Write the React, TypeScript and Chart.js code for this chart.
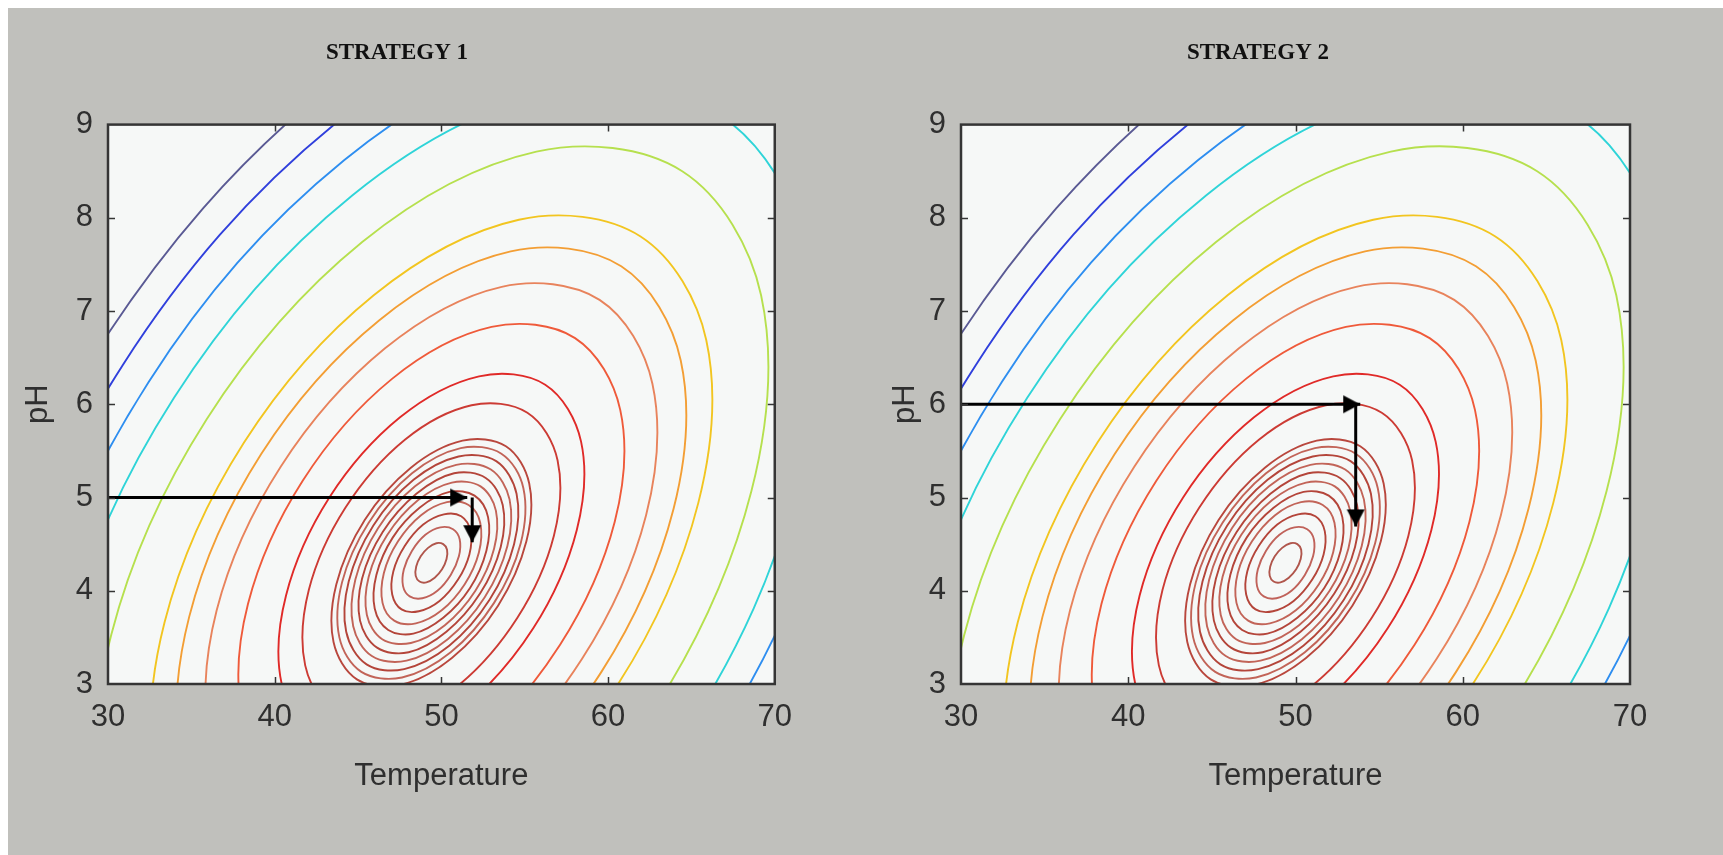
import React, { useEffect, useRef } from "react";
import { Chart, registerables } from "chart.js";

Chart.register(...registerables);

// ---------- data ----------
const xTicks = [30, 40, 50, 60, 70];
const yTicks = [3, 4, 5, 6, 7, 8, 9];
const xRange = [30, 70];
const yRange = [3, 9];

type P = [number, number];

// Contour rings (Temperature, pH), outermost to innermost, 12 outline points each
const ringC1: P[] = [[71.73, 10.54], [58.74, 10.84], [43.25, 9.4], [29.4, 6.59], [20.92, 3.16], [20.06, 0.04], [27.07, -1.94], [40.06, -2.24], [55.55, -0.8], [69.4, 2.01], [77.88, 5.44], [78.74, 8.56]];
const ringC2: P[] = [[70.08, 10.08], [58.05, 10.36], [43.7, 9.02], [30.88, 6.42], [23.02, 3.25], [22.23, 0.36], [28.72, -1.48], [40.75, -1.76], [55.1, -0.42], [67.92, 2.18], [75.78, 5.35], [76.57, 8.24]];
const ringC3: P[] = [[68.34, 9.59], [57.32, 9.85], [44.18, 8.62], [32.44, 6.24], [25.24, 3.33], [24.52, 0.69], [30.46, -0.99], [41.48, -1.25], [54.62, -0.02], [66.36, 2.36], [73.56, 5.27], [74.28, 7.91]];
const ringC4: P[] = [[66.64, 9.11], [56.61, 9.35], [44.65, 8.24], [33.96, 6.07], [27.41, 3.42], [26.75, 1.01], [32.16, -0.51], [42.19, -0.75], [54.15, 0.36], [64.84, 2.53], [71.39, 5.18], [72.05, 7.59]];
const ringC5: P[] = [[64.45, 8.5], [55.7, 8.71], [45.25, 7.74], [35.92, 5.84], [30.2, 3.53], [29.62, 1.43], [34.35, 0.1], [43.1, -0.11], [53.55, 0.86], [62.88, 2.76], [68.6, 5.07], [69.18, 7.17]];
const ringC6: P[] = [[61.95, 7.8], [54.65, 7.98], [45.94, 7.17], [38.16, 5.59], [33.39, 3.66], [32.91, 1.91], [36.85, 0.8], [44.15, 0.62], [52.86, 1.43], [60.64, 3.01], [65.41, 4.94], [65.89, 6.69]];
const ringC7: P[] = [[60.79, 7.48], [54.16, 7.64], [46.26, 6.9], [39.2, 5.47], [34.87, 3.72], [34.44, 2.13], [38.01, 1.12], [44.64, 0.96], [52.54, 1.7], [59.6, 3.13], [63.93, 4.88], [64.36, 6.47]];
const ringC8: P[] = [[59.49, 7.12], [53.62, 7.26], [46.62, 6.6], [40.36, 5.33], [36.52, 3.79], [36.14, 2.38], [39.31, 1.48], [45.18, 1.34], [52.18, 2.0], [58.44, 3.27], [62.28, 4.81], [62.66, 6.22]];
const ringC9: P[] = [[58.02, 6.71], [53.01, 6.83], [47.02, 6.27], [41.68, 5.18], [38.4, 3.86], [38.07, 2.66], [40.78, 1.89], [45.79, 1.77], [51.78, 2.33], [57.12, 3.42], [60.4, 4.74], [60.73, 5.94]];
const ringC10: P[] = [[56.23, 6.21], [52.26, 6.3], [47.52, 5.86], [43.28, 5.0], [40.68, 3.95], [40.42, 3.0], [42.57, 2.39], [46.54, 2.3], [51.28, 2.74], [55.52, 3.6], [58.12, 4.65], [58.38, 5.6]];
const ringC11: P[] = [[55.16, 5.91], [51.81, 5.99], [47.81, 5.62], [44.24, 4.89], [42.05, 4.01], [41.83, 3.2], [43.64, 2.69], [46.99, 2.61], [50.99, 2.98], [54.56, 3.71], [56.75, 4.59], [56.97, 5.4]];
const ringB10: P[] = [[53.87, 5.55], [51.27, 5.61], [48.17, 5.32], [45.4, 4.76], [43.7, 4.07], [43.53, 3.45], [44.93, 3.05], [47.53, 2.99], [50.63, 3.28], [53.4, 3.84], [55.1, 4.53], [55.27, 5.15]];
const ringB9: P[] = [[53.6, 5.47], [51.16, 5.53], [48.24, 5.26], [45.64, 4.73], [44.04, 4.09], [43.88, 3.5], [45.2, 3.13], [47.64, 3.07], [50.56, 3.34], [53.16, 3.87], [54.76, 4.51], [54.92, 5.1]];
const ringB8: P[] = [[53.29, 5.39], [51.03, 5.44], [48.33, 5.19], [45.92, 4.7], [44.44, 4.1], [44.29, 3.56], [45.51, 3.21], [47.77, 3.16], [50.47, 3.41], [52.88, 3.9], [54.36, 4.5], [54.51, 5.04]];
const ringB7: P[] = [[52.97, 5.3], [50.89, 5.35], [48.42, 5.12], [46.2, 4.67], [44.84, 4.12], [44.71, 3.62], [45.83, 3.3], [47.91, 3.25], [50.38, 3.48], [52.6, 3.93], [53.96, 4.48], [54.09, 4.98]];
const ringB6: P[] = [[52.66, 5.21], [50.76, 5.26], [48.5, 5.04], [46.48, 4.63], [45.24, 4.13], [45.12, 3.68], [46.14, 3.39], [48.04, 3.34], [50.3, 3.56], [52.32, 3.97], [53.56, 4.47], [53.68, 4.92]];
const ringB5: P[] = [[52.35, 5.12], [50.63, 5.16], [48.59, 4.97], [46.76, 4.6], [45.64, 4.15], [45.53, 3.74], [46.45, 3.48], [48.17, 3.44], [50.21, 3.63], [52.04, 4.0], [53.16, 4.45], [53.27, 4.86]];
const ringB4: P[] = [[51.99, 5.02], [50.48, 5.06], [48.69, 4.89], [47.08, 4.57], [46.1, 4.17], [46.0, 3.81], [46.81, 3.58], [48.32, 3.54], [50.11, 3.71], [51.72, 4.03], [52.7, 4.43], [52.8, 4.79]];
const ringB3: P[] = [[51.63, 4.92], [50.33, 4.95], [48.78, 4.81], [47.4, 4.53], [46.55, 4.19], [46.47, 3.87], [47.17, 3.68], [48.47, 3.65], [50.02, 3.79], [51.4, 4.07], [52.25, 4.41], [52.33, 4.73]];
const ringB2: P[] = [[51.19, 4.8], [50.15, 4.82], [48.91, 4.71], [47.8, 4.48], [47.12, 4.21], [47.05, 3.96], [47.61, 3.8], [48.65, 3.78], [49.89, 3.89], [51.0, 4.12], [51.68, 4.39], [51.75, 4.64]];
const ringB1: P[] = [[50.7, 4.66], [49.94, 4.68], [49.04, 4.6], [48.24, 4.43], [47.75, 4.23], [47.7, 4.05], [48.1, 3.94], [48.86, 3.92], [49.76, 4.0], [50.56, 4.17], [51.05, 4.37], [51.1, 4.55]];
const ringB0: P[] = [[50.11, 4.5], [49.7, 4.51], [49.2, 4.46], [48.76, 4.37], [48.49, 4.26], [48.46, 4.16], [48.69, 4.1], [49.1, 4.09], [49.6, 4.14], [50.04, 4.23], [50.31, 4.34], [50.34, 4.44]];

const contourRings: P[][] = [
  ringC1, ringC2, ringC3, ringC4, ringC5, ringC6, ringC7, ringC8, ringC9, ringC10, ringC11,
  ringB10, ringB9, ringB8, ringB7, ringB6, ringB5, ringB4, ringB3, ringB2, ringB1, ringB0,
];

// Arrows: [start, tip]
const arrow1H: P[] = [[30, 5.0], [51.55, 5.0]];
const arrow1V: P[] = [[51.85, 5.0], [51.85, 4.52]];
const arrow2H: P[] = [[30, 6.0], [53.87, 6.0]];
const arrow2V: P[] = [[53.6, 6.0], [53.6, 4.69]];

// ---------- styles ----------
const contourColors = [
  "#5a5a94", "#3040dc", "#2e8ef0", "#2fd4d8", "#b6e04e", "#f2c520", "#f39e34", "#e8835c",
  "#ef5a3a", "#e02a28", "#cc3b34",
  "#b9473d", "#c26458", "#b4453a", "#c26458", "#b4453a", "#c26458", "#b4453a", "#c26458",
  "#b4453a", "#c0625a", "#b0564c",
];
const PAGE_BG = "#c0c0bc";
const PLOT_BG = "#f6f8f7";
const FRAME = "#353535";
const TEXT = "#2f2f2f";
const TICK_LEN = 7;
const sans = "'Liberation Sans', Arial, Helvetica, sans-serif";
const serif = "'Liberation Serif', 'Times New Roman', serif";

function makeArrowHead(): HTMLCanvasElement {
  const c = document.createElement("canvas");
  c.width = 40;
  c.height = 40;
  const g = c.getContext("2d")!;
  g.fillStyle = "#000";
  g.beginPath();
  g.moveTo(20, 20);
  g.lineTo(3, 11);
  g.lineTo(3, 29);
  g.closePath();
  g.fill();
  return c;
}

function closedRing(pts: P[]) {
  const n = pts.length;
  const seq = [pts[n - 1], ...pts, pts[0], pts[1]];
  return seq.map(([x, y]) => ({ x, y }));
}

const framePlugin = {
  id: "matlabFrame",
  beforeDatasetsDraw(chart: any) {
    const { ctx, chartArea: a } = chart;
    ctx.save();
    ctx.fillStyle = PLOT_BG;
    ctx.fillRect(a.left, a.top, a.right - a.left, a.bottom - a.top);
    ctx.restore();
  },
  afterDatasetsDraw(chart: any) {
    const { ctx, chartArea: a, scales } = chart;
    const xs = scales.x;
    const ys = scales.y;
    ctx.save();
    ctx.strokeStyle = FRAME;
    ctx.lineWidth = 1.5;
    ctx.beginPath();
    xs.ticks.forEach((t: any) => {
      if (t.value <= xs.min || t.value >= xs.max) return;
      const px = Math.round(xs.getPixelForValue(t.value)) + 0.5;
      ctx.moveTo(px, a.bottom);
      ctx.lineTo(px, a.bottom - TICK_LEN);
      ctx.moveTo(px, a.top);
      ctx.lineTo(px, a.top + TICK_LEN);
    });
    ys.ticks.forEach((t: any) => {
      if (t.value <= ys.min || t.value >= ys.max) return;
      const py = Math.round(ys.getPixelForValue(t.value)) + 0.5;
      ctx.moveTo(a.left, py);
      ctx.lineTo(a.left + TICK_LEN, py);
      ctx.moveTo(a.right, py);
      ctx.lineTo(a.right - TICK_LEN, py);
    });
    ctx.stroke();
    ctx.lineWidth = 2.5;
    ctx.strokeRect(a.left, a.top, a.right - a.left, a.bottom - a.top);
    ctx.restore();
  },
};

interface PanelProps {
  title: string;
  arrowH: P[];
  arrowV: P[];
  width: number;
  height: number;
  padLeft: number;
  padRight: number;
  yAxisWidth: number;
  left: number;
}

function Panel({ title, arrowH, arrowV, width, height, padLeft, padRight, yAxisWidth, left }: PanelProps) {
  const ref = useRef<HTMLCanvasElement | null>(null);

  useEffect(() => {
    if (!ref.current) return;
    const head = makeArrowHead();
    const arrowStyle = (pts: P[], rot: number) => ({
      data: pts.map(([x, y]) => ({ x, y })),
      showLine: true,
      borderColor: "#000",
      backgroundColor: "#000",
      borderWidth: 3,
      tension: 0,
      pointStyle: head as any,
      pointRadius: [0, 6],
      pointHoverRadius: [0, 6],
      pointRotation: [0, rot],
    });
    const contourSets = contourRings.map((ring, i) => {
      const n = ring.length + 3;
      return {
        data: closedRing(ring),
        showLine: true,
        borderColor: contourColors[i],
        borderWidth: 1.9,
        tension: 0.35,
        pointRadius: 0,
        pointHoverRadius: 0,
        segment: {
          borderColor: (c: any) =>
            c.p0DataIndex === 0 || c.p1DataIndex === n - 1 ? "rgba(0,0,0,0)" : undefined,
        },
      };
    });
    const tickFont = { family: sans, size: 31, weight: "normal" as const };
    const chart = new Chart(ref.current, {
      type: "scatter",
      data: {
        datasets: [arrowStyle(arrowH, 0), arrowStyle(arrowV, 90), ...contourSets] as any,
      },
      options: {
        animation: false,
        responsive: false,
        maintainAspectRatio: false,
        events: [],
        layout: { padding: { left: padLeft, right: padRight, top: 0, bottom: 51 } },
        elements: {
          line: { capBezierPoints: false, fill: false },
          point: { radius: 0 },
        },
        plugins: {
          legend: { display: false },
          tooltip: { enabled: false },
          title: {
            display: true,
            text: title,
            color: "#111",
            font: { family: serif, size: 23, weight: "bold" },
            padding: { top: 31, bottom: 58 },
          },
        },
        scales: {
          x: {
            type: "linear",
            min: xRange[0],
            max: xRange[1],
            afterBuildTicks: (s: any) => {
              s.ticks = xTicks.map((v) => ({ value: v }));
            },
            afterFit: (s: any) => {
              s.height = 120;
            },
            grid: { display: false, drawTicks: false },
            border: { display: false },
            ticks: { padding: 15, color: TEXT, font: tickFont, maxRotation: 0 },
            title: {
              display: true,
              text: "Temperature",
              color: TEXT,
              font: tickFont,
              padding: { top: 0, bottom: 9 },
            },
          },
          y: {
            type: "linear",
            min: yRange[0],
            max: yRange[1],
            afterBuildTicks: (s: any) => {
              s.ticks = yTicks.map((v) => ({ value: v }));
            },
            afterFit: (s: any) => {
              s.width = yAxisWidth;
            },
            grid: { display: false, drawTicks: false },
            border: { display: false },
            ticks: { padding: 15, color: TEXT, font: tickFont },
            title: {
              display: true,
              text: "pH",
              color: TEXT,
              font: tickFont,
              padding: { top: 1, bottom: 0 },
            },
          },
        },
      } as any,
      plugins: [framePlugin],
    });
    return () => chart.destroy();
  }, [title, arrowH, arrowV, width, height, padLeft, padRight, yAxisWidth]);

  return (
    <canvas
      ref={ref}
      width={width}
      height={height}
      style={{ position: "absolute", left, top: 0, width, height, display: "block" }}
    />
  );
}

export default function App() {
  return (
    <div
      style={{
        position: "fixed",
        left: 8,
        top: 8,
        right: 0,
        bottom: 0,
        background: PAGE_BG,
        overflow: "hidden",
      }}
    >
      <Panel
        title="STRATEGY 1"
        arrowH={arrow1H}
        arrowV={arrow1V}
        width={799}
        height={847}
        padLeft={11}
        padRight={32}
        yAxisWidth={89}
        left={0}
      />
      <Panel
        title="STRATEGY 2"
        arrowH={arrow2H}
        arrowV={arrow2V}
        width={923}
        height={847}
        padLeft={86}
        padRight={93}
        yAxisWidth={75}
        left={792}
      />
    </div>
  );
}
